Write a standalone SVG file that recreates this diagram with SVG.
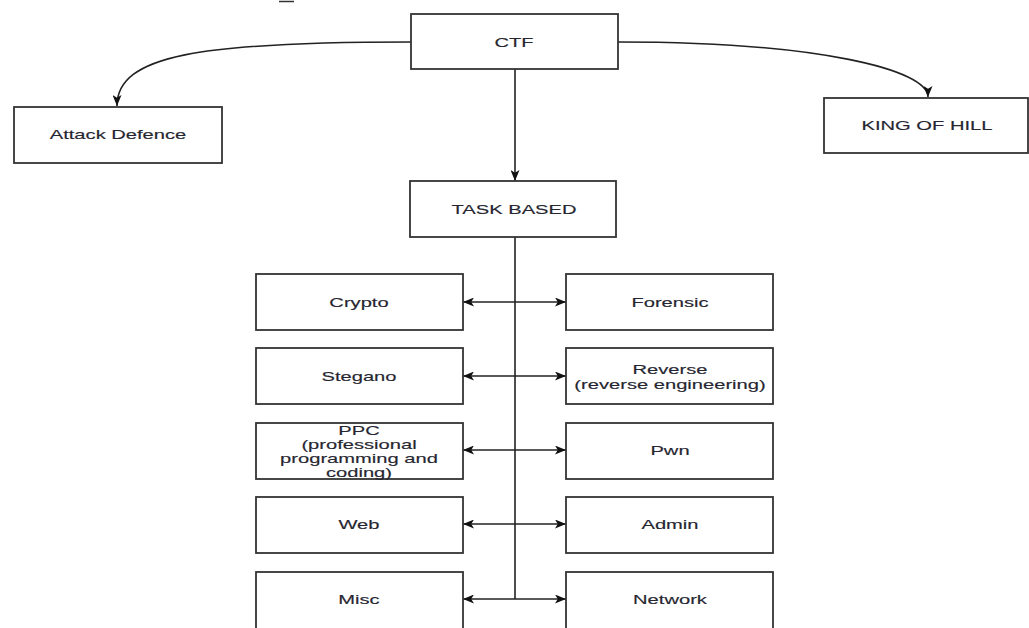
<svg xmlns="http://www.w3.org/2000/svg" width="1029" height="628" viewBox="0 0 1029 628">
<style>
.box{fill:#fff;stroke:#333;stroke-width:1.8}
.lbl{font-family:"Liberation Sans",Arial,sans-serif;font-size:13px;fill:#262630;text-anchor:middle;stroke:#262630;stroke-width:0.15}
.con{fill:none;stroke:#222;stroke-width:1.6}
</style>
<defs>
<marker id="ah" viewBox="0 0 11 9" refX="11" refY="4.5" markerWidth="11" markerHeight="9" markerUnits="userSpaceOnUse" orient="auto-start-reverse">
<path d="M0,0 L11,4.5 L0,9 L2.8,4.5 Z" fill="#111"/>
</marker>
</defs>
<rect width="1029" height="628" fill="#fff"/>
<line x1="279" y1="1.5" x2="294" y2="1.5" stroke="#333" stroke-width="1.5"/>
<g id="connectors">
<path class="con" d="M411,42 C200,42 117,55 117,106" marker-end="url(#ah)"/>
<path class="con" d="M618,42 C820,42 928,70 928,97" marker-end="url(#ah)"/>
<path class="con" d="M515,69 L515,181" marker-end="url(#ah)"/>
<path class="con" d="M515,237 L515,599"/>
<path class="con" d="M463,302 L566,302" marker-start="url(#ah)" marker-end="url(#ah)"/>
<path class="con" d="M463,376 L566,376" marker-start="url(#ah)" marker-end="url(#ah)"/>
<path class="con" d="M463,450 L566,450" marker-start="url(#ah)" marker-end="url(#ah)"/>
<path class="con" d="M463,524 L566,524" marker-start="url(#ah)" marker-end="url(#ah)"/>
<path class="con" d="M463,599 L566,599" marker-start="url(#ah)" marker-end="url(#ah)"/>
</g>
<g id="ctf"><rect class="box" x="411" y="14" width="207" height="55"/><text class="lbl" transform="translate(514 46.5) scale(1.55 1)">CTF</text></g>
<g id="attack"><rect class="box" x="14" y="107" width="208" height="56"/><text class="lbl" transform="translate(118 139) scale(1.55 1)">Attack Defence</text></g>
<g id="king"><rect class="box" x="824" y="98" width="204" height="55"/><text class="lbl" transform="translate(927 130) scale(1.55 1)">KING OF HILL</text></g>
<g id="task"><rect class="box" x="410" y="181" width="206" height="56"/><text class="lbl" transform="translate(514 213.5) scale(1.55 1)">TASK BASED</text></g>
<g id="crypto"><rect class="box" x="256" y="274" width="207" height="56"/><text class="lbl" transform="translate(359 306.5) scale(1.55 1)">Crypto</text></g>
<g id="forensic"><rect class="box" x="566" y="274" width="207" height="56"/><text class="lbl" transform="translate(670 306.5) scale(1.55 1)">Forensic</text></g>
<g id="stegano"><rect class="box" x="256" y="348" width="207" height="56"/><text class="lbl" transform="translate(359 380.5) scale(1.55 1)">Stegano</text></g>
<g id="reverse"><rect class="box" x="566" y="348" width="207" height="56"/><text class="lbl" transform="translate(670 373.5) scale(1.55 1)">Reverse</text><text class="lbl" transform="translate(670 388.5) scale(1.55 1)">(reverse engineering)</text></g>
<g id="ppc"><rect class="box" x="256" y="423" width="207" height="56"/><text class="lbl" transform="translate(359 434.5) scale(1.55 1)">PPC</text><text class="lbl" transform="translate(359 448.5) scale(1.55 1)">(professional</text><text class="lbl" transform="translate(359 462.5) scale(1.55 1)">programming and</text><text class="lbl" transform="translate(359 476.5) scale(1.55 1)">coding)</text></g>
<g id="pwn"><rect class="box" x="566" y="423" width="207" height="56"/><text class="lbl" transform="translate(670 454.5) scale(1.55 1)">Pwn</text></g>
<g id="web"><rect class="box" x="256" y="497" width="207" height="56"/><text class="lbl" transform="translate(359 528.5) scale(1.55 1)">Web</text></g>
<g id="admin"><rect class="box" x="566" y="497" width="207" height="56"/><text class="lbl" transform="translate(670 528.5) scale(1.55 1)">Admin</text></g>
<g id="misc"><rect class="box" x="256" y="572" width="207" height="60"/><text class="lbl" transform="translate(359 603.5) scale(1.55 1)">Misc</text></g>
<g id="network"><rect class="box" x="566" y="572" width="207" height="60"/><text class="lbl" transform="translate(670 603.5) scale(1.55 1)">Network</text></g>
</svg>
